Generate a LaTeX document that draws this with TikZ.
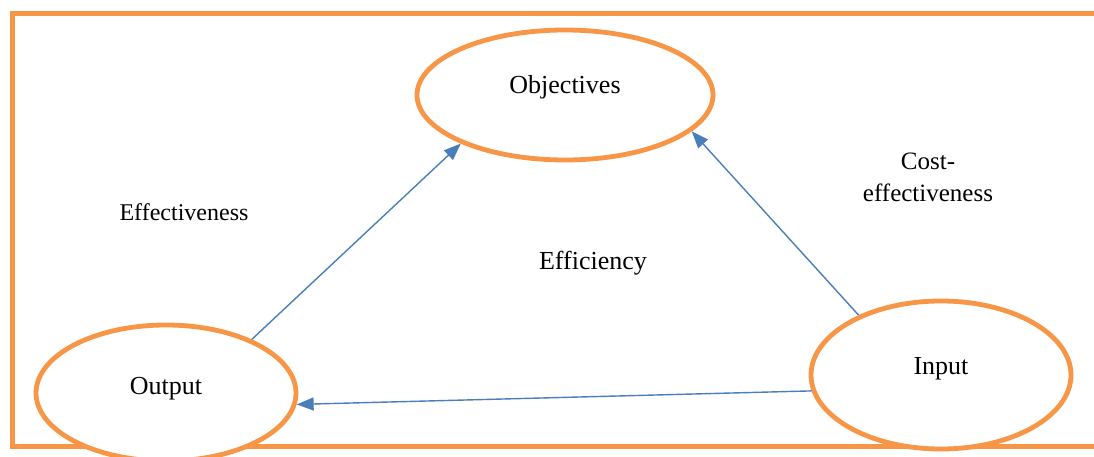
\documentclass[tikz,border=0pt]{standalone}
\usepackage{fontspec}
\setmainfont{Liberation Serif}
\usetikzlibrary{shapes.geometric,arrows.meta}
\definecolor{frameorange}{HTML}{F79646}
\definecolor{arrowblue}{HTML}{4A7EBB}
\tikzset{
    oval/.style={ellipse, draw=frameorange, line width=4.8pt, fill=white, inner sep=0pt},
    link/.style={draw=arrowblue, line width=1.4pt, -{Triangle[length=17pt,width=13pt]}},
    caption/.style={font=\fontsize{26}{31}\selectfont}
}
\begin{document}
\begin{tikzpicture}[x=1pt,y=-1pt]
    \clip (0,0) rectangle (1094,457);
    % frame
    \draw[frameorange, line width=5pt] (1110,13.5) -- (12,13.5) -- (12,446) -- (1110,446);
    \node[oval, minimum width=296pt, minimum height=130pt,
        label={[caption, yshift=8pt]center:Objectives}] (obj) at (565,95) {};
    \node[oval, minimum width=260pt, minimum height=136pt,
        label={[caption, yshift=4pt]center:Output}] (out) at (166,393) {};
    \node[oval, minimum width=260pt, minimum height=148pt,
        label={[caption, yshift=6pt]center:Input}] (in) at (941,375) {};
    \draw[link] (out.32) -- (obj.205);
    \draw[link] (in.144) -- (obj.344);
    \draw[link] (in.187) -- (out.355);
    \node[caption, font=\fontsize{24}{29}\selectfont] (effect) at (184,212) {Effectiveness};
    \node[caption] (effic) at (593,263) {Efficiency};
    \node[caption, font=\fontsize{25}{32}\selectfont, align=center] (cost) at (928,177) {Cost-\\effectiveness};
\end{tikzpicture}
\end{document}
